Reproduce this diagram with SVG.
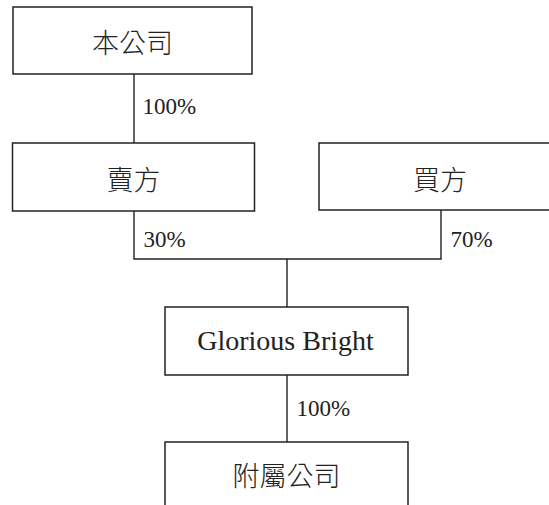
<svg xmlns="http://www.w3.org/2000/svg" width="549" height="505" viewBox="0 0 549 505">
<style>
.box{fill:#fff;stroke:#222;stroke-width:1.5}
.cn{font-family:"Noto Sans CJK TC","Noto Sans CJK SC",sans-serif;font-size:27px;font-weight:300;fill:#222;text-anchor:middle;dominant-baseline:central}
.en{font-family:"Liberation Serif",serif;font-size:28px;fill:#222;text-anchor:middle}
.lbl{font-family:"Liberation Serif",serif;font-size:23px;fill:#222}
.ln{fill:none;stroke:#222;stroke-width:1.4}
</style>
<rect width="549" height="505" fill="#fff"/>
<g id="connectors">
<path class="ln" d="M134 74V143"/>
<path class="ln" d="M134 211V259H441V210"/>
<path class="ln" d="M287 259V307"/>
<path class="ln" d="M287 375V442"/>
</g>
<g id="labels">
<text class="lbl" x="142.5" y="114">100%</text>
<text class="lbl" x="143.5" y="247">30%</text>
<text class="lbl" x="450.5" y="247">70%</text>
<text class="lbl" x="296.5" y="416">100%</text>
</g>
<g id="n1"><rect class="box" x="13" y="7" width="239" height="67"/><text class="cn" x="132.5" y="41">本公司</text></g>
<g id="n2"><rect class="box" x="12.5" y="143" width="242" height="68"/><text class="cn" x="133.5" y="178">賣方</text></g>
<g id="n3"><rect class="box" x="319" y="143" width="242" height="67"/><text class="cn" x="440" y="178">買方</text></g>
<g id="n4"><rect class="box" x="165" y="307" width="243" height="68"/><text class="en" x="285.5" y="349.5">Glorious Bright</text></g>
<g id="n5"><rect class="box" x="165" y="442" width="243" height="80"/><text class="cn" x="286.5" y="474">附屬公司</text></g>
</svg>
